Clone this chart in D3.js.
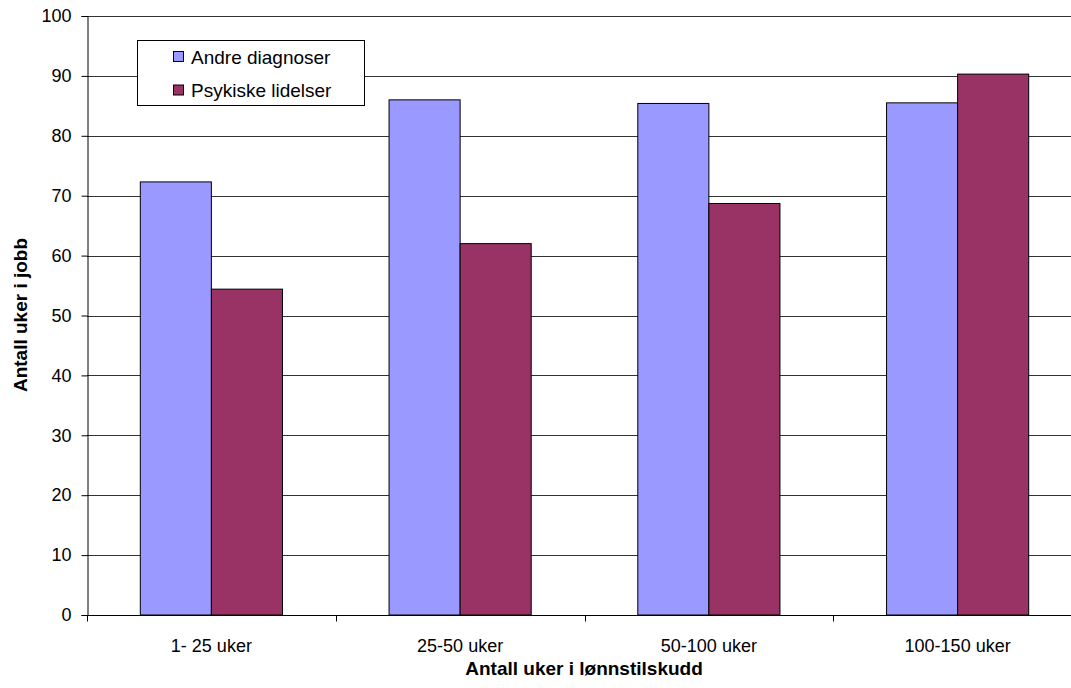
<!DOCTYPE html>
<html>
<head>
<meta charset="utf-8">
<script src="https://cdn.jsdelivr.net/npm/d3@7"></script>
<style>
  body { margin: 0; background: #fff; }
  svg { display: block; font-family: "Liberation Sans", Arial, sans-serif; }
</style>
</head>
<body>
<svg id="chart" width="1071" height="688"></svg>
<script>
const categories = ["1- 25 uker", "25-50 uker", "50-100 uker", "100-150 uker"];
const seriesNames = ["Andre diagnoser", "Psykiske lidelser"];
const andreDiagnoser = [72.3, 86.0, 85.4, 85.5];
const psykiskeLidelser = [54.4, 62.0, 68.7, 90.3];
const yTicks = [0, 10, 20, 30, 40, 50, 60, 70, 80, 90, 100];
const colors = ["#9999FF", "#993366"];

const FONT = "Liberation Sans, Arial, sans-serif";
const svg = d3.select("#chart");
const plotL = 87, plotR = 1082, plotT = 16, plotB = 615;

const x = d3.scaleBand().domain(categories).range([plotL, plotR]).paddingInner(0).paddingOuter(0);
const inner = d3.scaleBand().domain(seriesNames).range([0, x.bandwidth()]).paddingInner(0).paddingOuter(0.75);
const y = d3.scaleLinear().domain([0, 100]).range([plotB, plotT]);

// gridlines
svg.append("g").selectAll("line").data(yTicks.filter(d => d > 0)).join("line")
  .attr("x1", plotL).attr("x2", plotR)
  .attr("y1", d => Math.round(y(d)) + 0.5).attr("y2", d => Math.round(y(d)) + 0.5)
  .attr("stroke", "#333").attr("stroke-width", 1);

// bars
const rows = categories.map((c, i) => ({ c, vals: [andreDiagnoser[i], psykiskeLidelser[i]] }));
rows.forEach(r => {
  r.vals.forEach((v, j) => {
    svg.append("rect")
      .attr("x", x(r.c) + inner(seriesNames[j]))
      .attr("y", y(v))
      .attr("width", inner.bandwidth())
      .attr("height", y(0) - y(v))
      .attr("fill", colors[j])
      .attr("stroke", "#000").attr("stroke-width", 1);
  });
});

// y axis
const yAxis = d3.axisLeft(y).tickValues(yTicks).tickSize(6).tickPadding(10);
const gy = svg.append("g").attr("transform", `translate(${plotL + 0.5},0)`).call(yAxis);
gy.selectAll("text").attr("font-size", 18).attr("fill", "#000").attr("font-family", FONT);
gy.selectAll("line, path").attr("stroke", "#000");

// x axis
const xAxis = d3.axisBottom(x).tickSize(0).tickPadding(0).tickFormat(() => "");
const gx = svg.append("g").attr("transform", `translate(0,${plotB + 0.5})`).call(xAxis);
gx.select("path").attr("d", `M${plotL},0H${plotR}`).attr("stroke", "#000");
const boundaries = categories.map(c => x(c)).concat([plotR]);
gx.selectAll(".bt").data(boundaries).join("line").attr("class", "bt")
  .attr("x1", d => Math.round(d) + 0.5).attr("x2", d => Math.round(d) + 0.5)
  .attr("y1", 0).attr("y2", 6).attr("stroke", "#000");
gx.selectAll(".cl").data(categories).join("text").attr("class", "cl")
  .attr("x", d => x(d) + x.bandwidth() / 2).attr("y", 36)
  .attr("text-anchor", "middle").attr("font-size", 18).attr("fill", "#000")
  .attr("font-family", FONT)
  .text(d => d);

// axis titles
svg.append("text").attr("x", 584).attr("y", 675).attr("text-anchor", "middle")
  .attr("font-size", 19).attr("font-weight", "bold").attr("font-family", FONT).text("Antall uker i lønnstilskudd");
svg.append("text").attr("transform", "translate(27,315) rotate(-90)").attr("text-anchor", "middle")
  .attr("font-size", 19).attr("font-weight", "bold").attr("font-family", FONT).text("Antall uker i jobb");

// legend
const lg = svg.append("g");
lg.append("rect").attr("x", 137.5).attr("y", 40.5).attr("width", 227).attr("height", 65)
  .attr("fill", "#fff").attr("stroke", "#000");
const legY = [57, 90.5];
seriesNames.forEach((s, j) => {
  lg.append("rect").attr("x", 173.5).attr("y", legY[j] - 5.5).attr("width", 10).attr("height", 10)
    .attr("fill", colors[j]).attr("stroke", "#000");
  lg.append("text").attr("x", 191).attr("y", legY[j] + 6.5).attr("font-size", 19).attr("fill", "#000")
    .attr("font-family", FONT).text(s);
});
</script>
</body>
</html>
